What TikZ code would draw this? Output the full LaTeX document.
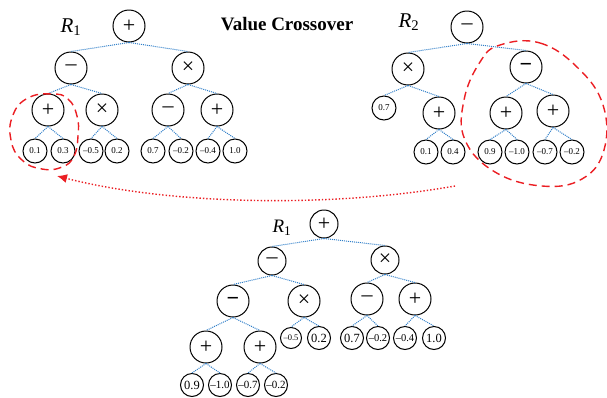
\documentclass[tikz,border=0pt]{standalone}
\usepackage{fontspec}
\setmainfont{Liberation Serif}
\usetikzlibrary{arrows.meta}

\definecolor{edgeblue}{RGB}{46,126,200}
\definecolor{loopred}{RGB}{235,30,35}

\tikzset{
	op/.style={circle, draw=black, line width=1pt, minimum size=32pt, inner sep=0pt, font=\fontsize{22}{22}\selectfont},
	sop/.style={op, minimum size=28pt},
	leaf/.style={circle, draw=black, line width=1pt, minimum size=24pt, inner sep=0pt, font=\fontsize{9}{9}\selectfont},
	bleaf/.style={leaf, minimum size=23pt, font=\fontsize{12.5}{12.5}\selectfont},
	tleaf/.style={leaf, minimum size=21pt, font=\fontsize{8.5}{8.5}\selectfont},
	edge/.style={edgeblue, densely dotted, line width=1pt},
	tree/.style={font=\fontsize{21}{21}\selectfont},
	loop/.style={loopred, line width=1.4pt, dash pattern=on 8pt off 5pt}
}

\begin{document}
\begin{tikzpicture}[x=1pt, y=-1pt]
			\useasboundingbox (0,0) rectangle (607,397);
			% first parent
			\node[tree] (r1lab) at (71,27) {\textit{R}\textsubscript{1}};
			\node[op] (a) at (129,26) {+};
			\node[op] (a1) at (71,68) {–};
			\node[op] (a2) at (188,68) {×};
			\node[op] (a11) at (48,110) {+};
			\node[op] (a12) at (102,110) {×};
			\node[op] (a21) at (168,110) {–};
			\node[op] (a22) at (217,110) {+};
			\node[leaf] (a111) at (35,151) {0.1};
			\node[leaf] (a112) at (63,151) {0.3};
			\node[leaf] (a121) at (91,151) {–0.5};
			\node[leaf] (a122) at (117,151) {0.2};
			\node[leaf] (a211) at (153,151) {0.7};
			\node[leaf] (a212) at (181,151) {–0.2};
			\node[leaf] (a221) at (208,151) {–0.4};
			\node[leaf] (a222) at (235,151) {1.0};
			\draw[edge] (a.south)--(a1.north);
			\draw[edge] (a.south)--(a2.north);
			\draw[edge] (a1.south)--(a11.north);
			\draw[edge] (a1.south)--(a12.north);
			\draw[edge] (a2.south)--(a21.north);
			\draw[edge] (a2.south)--(a22.north);
			\draw[edge] (a11.south)--(a111.north);
			\draw[edge] (a11.south)--(a112.north);
			\draw[edge] (a12.south)--(a121.north);
			\draw[edge] (a12.south)--(a122.north);
			\draw[edge] (a21.south)--(a211.north);
			\draw[edge] (a21.south)--(a212.north);
			\draw[edge] (a22.south)--(a221.north);
			\draw[edge] (a22.south)--(a222.north);
			% title
			\node[font=\fontsize{19}{19}\selectfont\bfseries] (title) at (287,24) {Value Crossover};
			% second parent
			\node[tree] (r2lab) at (409,22) {\textit{R}\textsubscript{2}};
			\node[op] (b) at (467,27) {–};
			\node[op] (b1) at (408,69) {×};
			\node[op] (b2) at (526,67) {\textbf{−}};
			\node[leaf] (b11) at (384,108) {0.7};
			\node[op] (b12) at (439,113) {+};
			\node[op] (b21) at (506,113) {+};
			\node[op] (b22) at (553,111) {+};
			\node[leaf] (b121) at (426,152) {0.1};
			\node[leaf] (b122) at (453,152) {0.4};
			\node[leaf] (b211) at (490,152) {0.9};
			\node[leaf] (b212) at (517,152) {–1.0};
			\node[leaf] (b221) at (545,152) {–0.7};
			\node[leaf] (b222) at (572,152) {–0.2};
			\draw[edge] (b.south)--(b1.north);
			\draw[edge] (b.south)--(b2.north);
			\draw[edge] (b1.south)--(b11.north);
			\draw[edge] (b1.south)--(b12.north);
			\draw[edge] (b2.south)--(b21.north);
			\draw[edge] (b2.south)--(b22.north);
			\draw[edge] (b12.south)--(b121.north);
			\draw[edge] (b12.south)--(b122.north);
			\draw[edge] (b21.south)--(b211.north);
			\draw[edge] (b21.south)--(b212.north);
			\draw[edge] (b22.south)--(b221.north);
			\draw[edge] (b22.south)--(b222.north);
			% swapped subtrees
			\draw[loop] plot[smooth cycle, tension=0.8] coordinates {(52,94) (68,99) (77,116) (78,136) (74,156) (62,167) (42,169) (22,160) (11,140) (13,115) (28,98)};
			\draw[loop] plot[smooth cycle, tension=0.7] coordinates {(500,45) (540,43) (578,68) (603,105) (604,150) (582,179) (542,186) (495,172) (465,140) (464,100) (480,62)};
			\coordinate (from) at (455,186);
			\coordinate (to) at (57,176);
			\draw[loopred, dotted, line width=1.4pt, -{Latex[length=10pt, width=9pt]}] (from) .. controls (330,208) and (170,205) .. (to);
			% offspring
			\node[tree, font=\fontsize{19}{19}\selectfont] (r3lab) at (282,228) {\textit{R}\textsubscript{1}};
			\node[sop] (c) at (324,224) {+};
			\node[sop] (c1) at (272,261) {–};
			\node[sop] (c2) at (385,260) {×};
			\node[op] (c11) at (233,301) {\textbf{−}};
			\node[op] (c12) at (304,301) {×};
			\node[op] (c21) at (367,299) {–};
			\node[op] (c22) at (415,299) {+};
			\node[op] (c111) at (206,347) {+};
			\node[op] (c112) at (260,347) {+};
			\node[tleaf] (c121) at (291,338) {–0.5};
			\node[bleaf] (c122) at (319,338) {0.2};
			\node[bleaf] (c211) at (352,338) {0.7};
			\node[bleaf, font=\fontsize{10.5}{10.5}\selectfont] (c212) at (378,338) {–0.2};
			\node[bleaf, font=\fontsize{10.5}{10.5}\selectfont] (c221) at (405,338) {–0.4};
			\node[bleaf] (c222) at (434,338) {1.0};
			\node[bleaf] (c1111) at (192,385) {0.9};
			\node[bleaf, font=\fontsize{11}{11}\selectfont] (c1112) at (220,385) {–1.0};
			\node[bleaf, font=\fontsize{11}{11}\selectfont] (c1121) at (248,385) {–0.7};
			\node[bleaf, font=\fontsize{11}{11}\selectfont] (c1122) at (276,385) {–0.2};
			\draw[edge] (c.south)--(c1.north);
			\draw[edge] (c.south)--(c2.north);
			\draw[edge] (c1.south)--(c11.north);
			\draw[edge] (c1.south)--(c12.north);
			\draw[edge] (c2.south)--(c21.north);
			\draw[edge] (c2.south)--(c22.north);
			\draw[edge] (c11.south)--(c111.north);
			\draw[edge] (c11.south)--(c112.north);
			\draw[edge] (c12.south)--(c121.north);
			\draw[edge] (c12.south)--(c122.north);
			\draw[edge] (c21.south)--(c211.north);
			\draw[edge] (c21.south)--(c212.north);
			\draw[edge] (c22.south)--(c221.north);
			\draw[edge] (c22.south)--(c222.north);
			\draw[edge] (c111.south)--(c1111.north);
			\draw[edge] (c111.south)--(c1112.north);
			\draw[edge] (c112.south)--(c1121.north);
			\draw[edge] (c112.south)--(c1122.north);
		\end{tikzpicture}
\end{document}
